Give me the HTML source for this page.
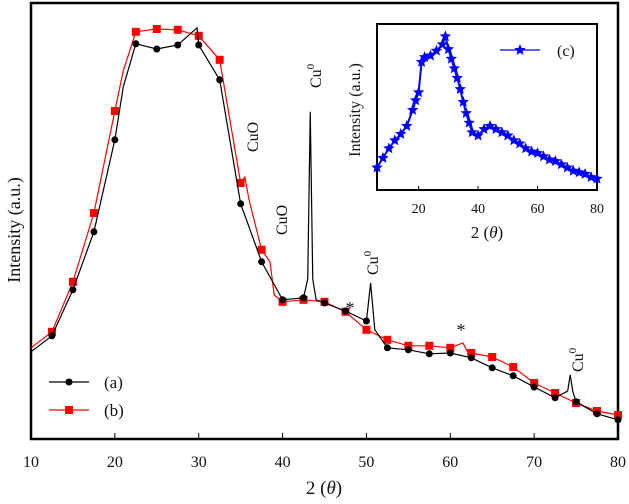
<!DOCTYPE html>
<html><head><meta charset="utf-8"><style>
body{margin:0;background:#fff;}
svg text{font-family:"Liberation Serif",serif;fill:#111;}
</style></head><body>
<svg id="c" width="629" height="499" viewBox="0 0 629 499">
<rect x="31" y="3" width="587" height="436" fill="#fff" stroke="#000" stroke-width="2.5"/>
<g id="main"></g>
<g id="ann"></g>
<g id="inset"></g>
</svg>
<script>
// main chart data (intensity in arbitrary units, 0 bottom .. ~110 top)
const xTicks=[10,20,30,40,50,60,70,80];
const xA=[10,12.5,15,17.5,20,21,22.5,25,27.5,29.8,30,32.5,35,37.5,40,42.5,43,43.3,43.6,44,45,47.5,50,50.5,51,52.5,55,57.5,60,62.5,65,67.5,70,72.5,74,74.3,74.6,75,77.5,80];
const yA=[21.8,25.8,37.3,51.8,74.8,88,98.8,97.5,98.5,102.8,98.5,89.8,58.8,44.3,34.8,35.3,40,81.8,40,34.8,34,32,29.5,39,27.3,22.8,22.3,21.3,21.5,20.3,17.8,15.8,13,10.3,12,16,12,9.3,6.3,4.8];
const xB=[10,12.5,15,17.5,20,21,22.5,25,27.5,30,32.5,35,35.5,36,37.5,38.5,39,40,42.5,45,47.5,50,52.5,55,57.5,60,61.5,62,62.5,65,67.5,70,72.5,75,77.5,80];
const yB=[22.8,26.8,39.3,56.5,82,92,101.8,102.5,102.3,100.8,94.8,64,65.5,59.8,47.3,44.3,36,34.3,34.8,34.3,31.8,27.3,24.8,23.3,23.3,22.8,24,22,21.5,20.5,18,14,11.5,9,7,6
];
// inset data (intensity 0..100)
const insetTicks=[20,40,60,80];
const xC=[6,8,10,12,14,16,18,19,20,21,22,24,26,28,29,30,31,32,33,34,35,36,37,38,40,42,44,46,48,50,52,54,56,58,60,62,64,66,68,70,72,74,76,78,80];
const yC=[14,20,26,31,35,40,50,56,61,80,83,84,87,91,96,88,82,76,70,63,55,48,42,36,34,38,40,38,36,34,31,29,26,24,23,21,19,18,16,14,12,11,10,8,7];

const NS='http://www.w3.org/2000/svg';
function mk(tag,attrs,parent){const e=document.createElementNS(NS,tag);for(const k in attrs)e.setAttribute(k,attrs[k]);parent.appendChild(e);return e;}
const main=document.getElementById('main');
const X=v=>31+(v-10)*(587/70);
const Y=v=>439-v*4;
// ticks
xTicks.forEach(t=>{
  const l=mk('line',{x1:X(t),x2:X(t),y1:439,y2:433,stroke:'#000','stroke-width':1},main);
  
  
  const tx=mk('text',{x:X(t),y:467,'text-anchor':'middle','font-size':16},main);
  tx.textContent=t;
  
  
});
function series(xs,ys,color,name,marker){
  const pts=xs.map((x,i)=>X(x)+','+Y(ys[i])).join(' ');
  const p=mk('polyline',{points:pts,fill:'none',stroke:color,'stroke-width':1.2},main);
  
  
  xs.forEach((x,i)=>{
    if(Math.abs(x/2.5-Math.round(x/2.5))>1e-6||x<12) return;
    let m;
    if(marker==='c') m=mk('circle',{cx:X(x),cy:Y(ys[i]),r:3.5,fill:color},main);
    else m=mk('rect',{x:X(x)-4,y:Y(ys[i])-4,width:8,height:8,fill:color},main);
    
    
  });
}
series(xB,yB,'#f00','series-b','s');
series(xA,yA,'#000','series-a','c');

// annotations
const ann=document.getElementById('ann');
function rt(x,y,s,name,sup){
  const t=mk('text',{x:x,y:y,'font-size':16,transform:`rotate(-90 ${x} ${y})`},ann);
  t.textContent=s;
  if(sup){const ts=mk('tspan',{dy:-7,'font-size':11},t);ts.textContent=sup;}
  
  
}
rt(258,152,'CuO','cuo-label-1');
rt(287,235,'CuO','cuo-label-2');
rt(321,88,'Cu','cu0-label-1','0');
rt(378,275,'Cu','cu0-label-2','0');
rt(583,372,'Cu','cu0-label-3','0');
[[350,314],[461,336]].forEach(p=>{const t=mk('text',{x:p[0],y:p[1],'font-size':18,'text-anchor':'middle'},ann);t.textContent='*';

});
// legend
[[382,'#000','(a)','c'],[410,'#f00','(b)','s']].forEach(r=>{
  const g=mk('g',{},ann);
  
  
  mk('line',{x1:49,x2:89,y1:r[0],y2:r[0],stroke:r[1],'stroke-width':1.2},g);
  if(r[3]==='c') mk('circle',{cx:69,cy:r[0],r:3.5,fill:r[1]},g);
  else mk('rect',{x:65,y:r[0]-4,width:8,height:8,fill:r[1]},g);
  const t=mk('text',{x:104,y:r[0]+6,'font-size':17},g);t.textContent=r[2];
});
const yl=mk('text',{x:20,y:230,'font-size':18,'text-anchor':'middle',transform:'rotate(-90 20 230)'},ann);
yl.textContent='Intensity (a.u.)';


const xl=mk('text',{x:324,y:494,'font-size':19,'text-anchor':'middle'},ann);
xl.innerHTML='2 (<tspan font-style="italic">θ</tspan>)';



// inset
const ins=document.getElementById('inset');
const IX=v=>377+(v-6)*(220/74);
const IY=v=>190-v*1.6;
const fr=mk('rect',{x:377,y:24,width:220,height:166,fill:'#fff',stroke:'#000','stroke-width':2},ins);


insetTicks.forEach(t=>{
  mk('line',{x1:IX(t),x2:IX(t),y1:190,y2:186,stroke:'#000'},ins);
  const tx=mk('text',{x:IX(t),y:213,'font-size':14,'text-anchor':'middle'},ins);
  tx.textContent=t;
  
  
});
const cp=mk('polyline',{points:xC.map((x,i)=>IX(x)+','+IY(yC[i])).join(' '),fill:'none',stroke:'#00f','stroke-width':2},ins);


function star(cx,cy,r){let s='';for(let k=0;k<10;k++){const a=-Math.PI/2+k*Math.PI/5;const rr=k%2?r*0.45:r;s+=(cx+rr*Math.cos(a))+','+(cy+rr*Math.sin(a))+' ';}return s;}
xC.forEach((x,i)=>{
  const s=mk('polygon',{points:star(IX(x),IY(yC[i]),6),fill:'#00f'},ins);
  
  
});
const lg=mk('g',{},ins);


mk('line',{x1:500,x2:540,y1:50,y2:50,stroke:'#00f','stroke-width':1.2},lg);
mk('polygon',{points:star(520,50,6),fill:'#00f'},lg);
const lt=mk('text',{x:557,y:56,'font-size':16},lg);lt.textContent='(c)';
const iyl=mk('text',{x:360,y:110,'font-size':16,'text-anchor':'middle',transform:'rotate(-90 360 110)'},ins);
iyl.textContent='Intensity (a.u.)';


const ixl=mk('text',{x:487,y:238,'font-size':17,'text-anchor':'middle'},ins);
ixl.innerHTML='2 (<tspan font-style="italic">θ</tspan>)';


</script>
</body></html>
